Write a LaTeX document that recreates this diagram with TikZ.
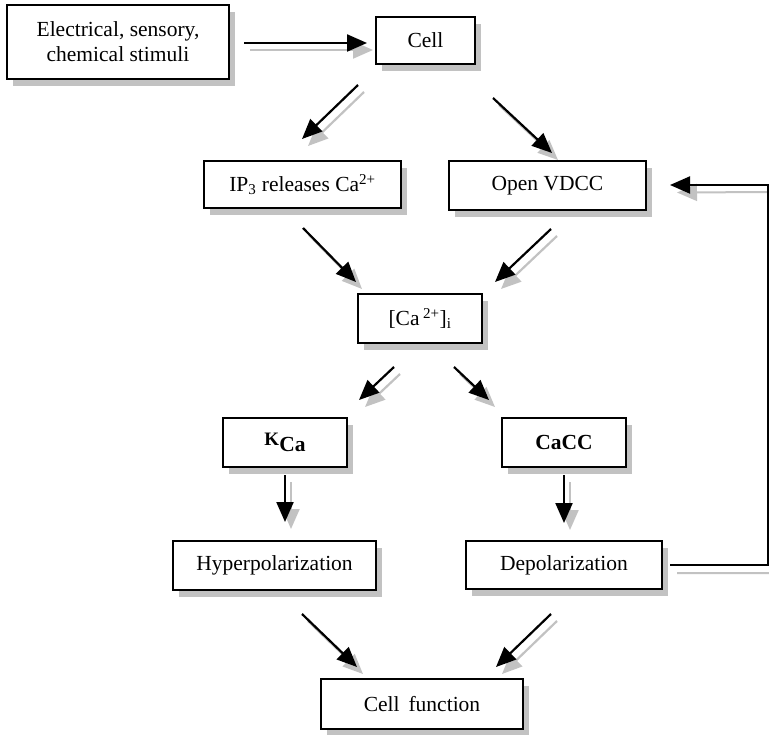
\documentclass[tikz,border=0pt]{standalone}
\usepackage{fontspec}
\setmainfont{Liberation Serif}
\usetikzlibrary{arrows.meta,calc,shadows}
\definecolor{shade}{gray}{0.76}
\tikzset{
  box/.style={draw=black, line width=2pt, fill=white, minimum width=#1, inner sep=0pt,
    drop shadow={shadow xshift=6pt, shadow yshift=-7pt, fill=shade, opacity=1},
    font=\fontsize{21.5}{25}\selectfont, align=center},
  mainarrow/.style={draw=black, line width=2.2pt, -{Triangle[length=20pt,width=17pt]}},
  shadowarrow/.style={draw=shade, line width=2.2pt, -{Triangle[length=20pt,width=17pt]},
    transform canvas={shift={(6pt,-7pt)}}},
}
\newcommand\flowarrow[2]{%
  \draw[shadowarrow] #1 -- #2;
  \draw[mainarrow] #1 -- #2;}
\begin{document}
\begin{tikzpicture}[x=1pt,y=-1pt]
\useasboundingbox (0,0) rectangle (769,735);
\node[box=222pt, minimum height=74pt] (stim) at (118,42) {Electrical, sensory,\\chemical stimuli};
\node[box=99pt, minimum height=47pt] (cell) at (425.5,40.5) {Cell};
\node[box=197pt, minimum height=47pt] (ip3) at (302.5,184.5) {IP\textsubscript{3} releases Ca\textsuperscript{2+}};
\node[box=197pt, minimum height=49pt] (vdcc) at (547.5,185.5) {Open VDCC};
\node[box=124pt, minimum height=49pt] (ca) at (420,318.5) {[Ca\,\textsuperscript{2+}]\textsubscript{i}};
\node[box=124pt, minimum height=49pt] (kca) at (285,442.5) {\bfseries\raisebox{0.3ex}{\fontsize{19}{20}\selectfont K}\raisebox{-0.25ex}{Ca}};
\node[box=124pt, minimum height=49pt] (cacc) at (564,442.5) {\bfseries CaCC};
\node[box=203pt, minimum height=49pt] (hyper) at (274.5,565.5) {Hyperpolarization};
\node[box=196pt, minimum height=48pt] (depol) at (564,565) {Depolarization};
\node[box=202pt, minimum height=50pt] (cellf) at (422,704) {Cell\, function};

\flowarrow{($(stim.east)+(14,1)$)}{($(cell.west)+(-8,2.5)$)}
\flowarrow{($(cell.south)+(-67.5,20)$)}{($(ip3.north)+(-0.5,-21)$)}
\flowarrow{($(cell.south)+(67.5,33)$)}{($(vdcc.north)+(4.5,-7)$)}
\flowarrow{($(ip3.south)+(0.5,19)$)}{($(ca.north)+(-64,-11)$)}
\flowarrow{($(vdcc.south)+(3.5,18)$)}{($(ca.north)+(75,-11)$)}
\flowarrow{($(ca.south)+(-26,23)$)}{($(kca.north)+(74,-17)$)}
\flowarrow{($(ca.south)+(34,23)$)}{($(cacc.north)+(-75,-17)$)}
\flowarrow{($(kca.south)+(0,7)$)}{($(hyper.north)+(10.5,-18)$)}
\flowarrow{($(cacc.south)+(0,7)$)}{($(depol.north)+(0,-17)$)}
\flowarrow{($(hyper.south)+(27.5,23)$)}{($(cellf.north)+(-65,-11)$)}
\flowarrow{($(depol.south)+(-13,24)$)}{($(cellf.north)+(74,-11)$)}

\coordinate (fbr) at (768,565);
\coordinate (fbt) at (768,185);
\draw[draw=shade, line width=2pt, -{Triangle[length=20pt,width=17pt]}]
  ($(depol.east)+(14,8)$) -- (775,573) -- (775,192) -- ($(vdcc.east)+(30,7)$);
\draw[draw=black, line width=2pt, -{Triangle[length=20pt,width=17pt]}]
  ($(depol.east)+(7,0)$) -- (fbr) -- (fbt) -- ($(vdcc.east)+(23,-0.5)$);
\end{tikzpicture}
\end{document}
